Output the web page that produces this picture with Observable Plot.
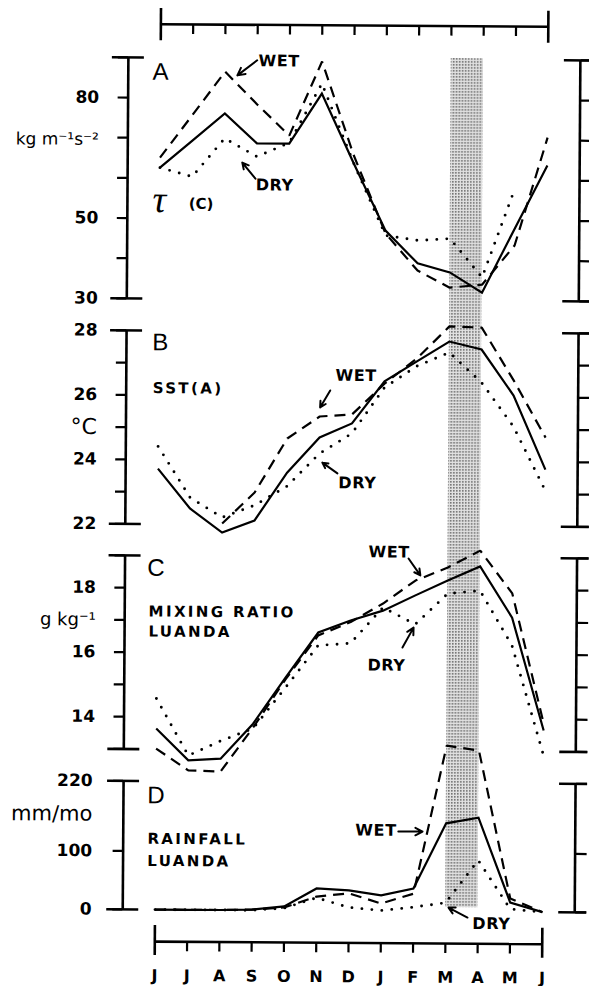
<!DOCTYPE html>
<html>
<head>
<meta charset="utf-8">
<script src="https://cdn.jsdelivr.net/npm/d3@7"></script>
<script src="https://cdn.jsdelivr.net/npm/@observablehq/plot@0.6"></script>
<style>
html, body { margin: 0; padding: 0; background: #fff; }
#fig { position: relative; width: 589px; height: 986px; overflow: hidden; background: #fff;
       transform: rotate(0.38deg); transform-origin: 294.5px 493px; }
#fig svg { position: absolute; left: 0; top: 0; background: transparent !important; overflow: visible !important; }
</style>
</head>
<body>
<div id="fig"></div>
<script>
// ---------- data ----------
const months = ["J","J","A","S","O","N","D","J","F","M","A","M","J"];

// A: wind stress tau (C), kg m-1 s-2
const tauMean = [62.6, 69.4, 76.2, 68.8, 68.8, 81.3, 64.0, 47.3, 39.2, 37.0, 32.0, 48.0, 63.8];
const tauWet  = [65.1, 75.8, 86.6, 78.5, 70.8, 89.3, 66.0, 46.6, 37.4, 33.2, 34.0, 43.8, 70.7];
const tauDry  = [62.6, 60.4, 70.0, 65.5, 69.0, 83.8, 64.0, 46.1, 44.9, 45.4, 35.8, 58.0, null];

// B: SST (A), degC
const sstMean = [23.72, 22.49, 21.75, 22.13, 23.62, 24.72, 25.16, 26.47, 27.10, 27.72, 27.48, 26.06, 23.77];
const sstWet  = [null, null, 22.03, 23.00, 24.68, 25.37, 25.44, 26.40, 27.19, 28.19, 28.16, 26.53, 24.76];
const sstDry  = [24.41, 22.83, 22.22, 22.60, 23.20, 24.22, 24.85, 26.28, 26.95, 27.38, 26.46, 25.10, 23.12];

// C: mixing ratio Luanda, g/kg
const mixMean = [13.64, 12.66, 12.72, 13.81, 15.25, 16.65, 17.03, 17.34, 17.82, 18.29, 18.73, 17.15, 13.66];
const mixWet  = [13.02, 12.35, 12.32, 13.69, 15.20, 16.56, 16.98, 17.56, 18.28, 18.69, 19.22, 17.90, 13.87];
const mixDry  = [14.57, 12.81, 13.27, 13.66, 14.94, 16.25, 16.32, 17.44, 16.92, 17.88, 17.98, 16.29, 12.89];

// D: rainfall Luanda, mm/mo
const rainMean = [0, 0, 0, 1, 7, 38, 35, 27, 39, 151, 161, 16, 0];
const rainWet  = [0, 0, 0, 1, 5, 24, 30, 13, 30, 284, 276, 23, 0];
const rainDry  = [0, 0, 0, 0, 4, 22, 6, 1, 7, 15, 88, 5, 0];

// axis ticks and labels
const ticksA = [30, 40, 50, 60, 70, 80, 90], labelsA = [30, 50, 80];
const ticksB = [22, 23, 24, 25, 26, 27, 28], labelsB = [22, 24, 26, 28];
const ticksC = [13, 14, 15, 16, 17, 18, 19], labelsC = [14, 16, 18];
const ticksD = [0, 100, 220], labelsD = [0, 100, 220];
const unitA = {v: 69.5, t: "kg m\u207B\u00B9s\u207B\u00B2"};
const unitB = {v: 25, t: "\u00B0C"};
const unitC = {v: 17, t: "g kg\u207B\u00B9"};
const unitD = {v: 163, t: "mm/mo"};

// shaded season (M..A)
const season = [{from: 9, to: 10}];

// annotations (text, positioned in data units)
const lettersA = [{x: -0.25, y: 86.4, t: "A"}];
const notesA = [{x: 3.03, y: 89.3, t: "WET"}, {x: 2.97, y: 58.4, t: "DRY"}];
const arrowsA = [{x1: 2.99, y1: 89.5, x2: 2.38, y2: 85.7}, {x1: 2.96, y1: 60.0, x2: 2.55, y2: 64.0}];
const tauSym = [{x: -0.22, y: 54.6, t: "\u03C4"}];
const tauTag = [{x: 0.9, y: 53.6, t: "(C)"}];

const lettersB = [{x: -0.2, y: 27.63, t: "B"}];
const capsB = [{x: -0.18, y: 26.21, t: "SST(A)"}];
const notesB = [{x: 5.48, y: 26.64, t: "WET"}, {x: 5.59, y: 23.31, t: "DRY"}];
const arrowsB = [{x1: 5.32, y1: 26.18, x2: 5.01, y2: 25.65}, {x1: 5.56, y1: 23.61, x2: 5.09, y2: 23.94}];

const lettersC = [{x: -0.31, y: 18.61, t: "C"}];
const capsC = [{x: -0.26, y: 17.26, t: "MIXING RATIO"}, {x: -0.26, y: 16.64, t: "LUANDA"}];
const notesC = [{x: 6.54, y: 19.15, t: "WET"}, {x: 6.53, y: 15.64, t: "DRY"}];
const arrowsC = [{x1: 7.78, y1: 18.96, x2: 8.15, y2: 18.44}, {x1: 7.61, y1: 16.2, x2: 7.95, y2: 16.82}];

const lettersD = [{x: -0.26, y: 195, t: "D"}];
const capsD = [{x: -0.25, y: 120.7, t: "RAINFALL"}, {x: -0.25, y: 82.9, t: "LUANDA"}];
const notesD = [{x: 6.19, y: 137.7, t: "WET"}, {x: 9.83, y: -20.9, t: "DRY"}];
const arrowsD = [{x1: 7.52, y1: 136.5, x2: 8.27, y2: 136.6}, {x1: 9.68, y1: -10.1, x2: 9.09, y2: 6.8}];

// ---------- drawing ----------
const W = 589, H = 986, ML = 125, MR = 12;
const fig = document.getElementById("fig");
const rows = arr => arr.map((v, i) => ({i, v}));
const SANS = "DejaVu Sans";

function seriesMarks(mean, wet, dry) {
  return [
    Plot.line(rows(mean), {x: "i", y: "v", stroke: "#000", strokeWidth: 2.2, strokeLinecap: "butt", strokeLinejoin: "miter", strokeMiterlimit: 6}),
    Plot.line(rows(wet), {x: "i", y: "v", stroke: "#000", strokeWidth: 2.2, strokeDasharray: "11,7", strokeLinecap: "butt", strokeLinejoin: "miter"}),
    Plot.line(rows(dry), {x: "i", y: "v", stroke: "#000", strokeWidth: 2.9, strokeDasharray: "0,10", strokeLinecap: "round"})
  ];
}

function spaceText(svg, strings, spacing) {
  svg.querySelectorAll("text").forEach(t => {
    if (strings.includes(t.textContent)) t.setAttribute("letter-spacing", spacing);
  });
}

function panel(o) {
  const [d0, d1] = o.domain;
  const marks = [
    Plot.ruleX([-1, 13], {stroke: "#000", strokeWidth: 2.6}),
    Plot.ruleY([d0, d1], {x1: -1, x2: -1, insetLeft: -16, insetRight: -16, stroke: "#000", strokeWidth: 2.6}),
    Plot.ruleY([d0, d1], {x1: 13, x2: 13, insetLeft: -16, insetRight: -16, stroke: "#000", strokeWidth: 2.6}),
    Plot.axisY({anchor: "left", ticks: o.ticks, tickSize: 10, tickFormat: () => "", strokeWidth: 2.2}),
    Plot.axisY({anchor: "right", ticks: o.ticks, tickSize: 13, tickFormat: () => "", strokeWidth: 2.2}),
    Plot.axisY({anchor: "left", ticks: o.labels, tickSize: 0, tickPadding: o.pad, tickFormat: d => String(d),
                fontFamily: SANS, fontWeight: "bold", fontSize: 17, fill: "#000"}),
    Plot.text([o.unit], {x: -1, y: "v", text: "t", dx: -o.pad, textAnchor: "end", fontFamily: SANS, fontSize: o.unitSize, fill: "#000"}),
    ...seriesMarks(...o.series),
    Plot.text(o.letters, {x: "x", y: "y", text: "t", textAnchor: "start", fontFamily: "Liberation Sans", fontSize: 24, fill: "#000"}),
    Plot.text(o.notes, {x: "x", y: "y", text: "t", textAnchor: "start", fontFamily: SANS, fontWeight: "bold", fontSize: 16, fill: "#000"}),
    Plot.arrow(o.arrows, {x1: "x1", y1: "y1", x2: "x2", y2: "y2", stroke: "#000", strokeWidth: 2, headLength: 7, headAngle: 55})
  ];
  if (o.caps) marks.push(Plot.text(o.caps, {x: "x", y: "y", text: "t", textAnchor: "start", fontFamily: SANS, fontWeight: "bold", fontSize: 15, fill: "#000"}));
  if (o.extra) marks.push(...o.extra);
  const svg = Plot.plot({
    width: W, height: H, marginLeft: ML, marginRight: MR, marginTop: o.top, marginBottom: H - o.bottom,
    x: {domain: [-1, 13], axis: null}, y: {domain: o.domain},
    marks
  });
  if (o.caps) spaceText(svg, o.caps.map(d => d.t), "2.4");
  spaceText(svg, o.notes.map(d => d.t), "0.6");
  return svg;
}

// shaded band
const band = Plot.plot({
  width: W, height: H, marginLeft: ML, marginRight: MR, marginTop: 57, marginBottom: H - 906,
  x: {domain: [-1, 13], axis: null},
  marks: [Plot.rect(season, {x1: "from", x2: "to", fill: "url(#stipple)"})]
});
{
  const NS = "http://www.w3.org/2000/svg";
  const defs = document.createElementNS(NS, "defs");
  const pat = document.createElementNS(NS, "pattern");
  pat.setAttribute("id", "stipple"); pat.setAttribute("width", "3"); pat.setAttribute("height", "3");
  pat.setAttribute("patternUnits", "userSpaceOnUse");
  const bg = document.createElementNS(NS, "rect");
  bg.setAttribute("width", "3"); bg.setAttribute("height", "3"); bg.setAttribute("fill", "#e2e2e2");
  const dot = document.createElementNS(NS, "rect");
  dot.setAttribute("width", "1.6"); dot.setAttribute("height", "1.6"); dot.setAttribute("fill", "#6e6e6e");
  pat.appendChild(bg); pat.appendChild(dot); defs.appendChild(pat);
  band.insertBefore(defs, band.firstChild);
}
fig.appendChild(band);

// top axis
fig.appendChild(Plot.plot({
  width: W, height: H, marginLeft: ML, marginRight: MR, marginTop: 9, marginBottom: H - 24.6,
  x: {domain: [-1, 13], axis: null}, y: {domain: [0, 1], axis: null},
  marks: [
    Plot.ruleY([0], {x1: 0, x2: months.length - 1, stroke: "#000", strokeWidth: 2.6}),
    Plot.ruleX([0, months.length - 1], {insetBottom: -16.5, stroke: "#000", strokeWidth: 2.6}),
    Plot.axisX({anchor: "bottom", ticks: d3.range(1, months.length - 1), tickSize: 10, tickFormat: () => "", strokeWidth: 2.2})
  ]
}));

fig.appendChild(panel({top: 58, bottom: 299, domain: [30, 90], ticks: ticksA, labels: labelsA, pad: 29,
  unit: unitA, unitSize: 17, series: [tauMean, tauWet, tauDry], letters: lettersA, notes: notesA, arrows: arrowsA,
  extra: [
    Plot.text(tauSym, {x: "x", y: "y", text: "t", textAnchor: "start", fontFamily: "Liberation Serif", fontStyle: "italic", fontSize: 38, fill: "#000"}),
    Plot.text(tauTag, {x: "x", y: "y", text: "t", textAnchor: "start", fontFamily: SANS, fontWeight: "bold", fontSize: 15, fill: "#000"})
  ]}));

fig.appendChild(panel({top: 331, bottom: 524.5, domain: [22, 28], ticks: ticksB, labels: labelsB, pad: 29,
  unit: unitB, unitSize: 22, series: [sstMean, sstWet, sstDry], letters: lettersB, notes: notesB, arrows: arrowsB, caps: capsB}));

fig.appendChild(panel({top: 556, bottom: 749.6, domain: [13, 19], ticks: ticksC, labels: labelsC, pad: 29,
  unit: unitC, unitSize: 18, series: [mixMean, mixWet, mixDry], letters: lettersC, notes: notesC, arrows: arrowsC, caps: capsC}));

fig.appendChild(panel({top: 781.5, bottom: 910, domain: [0, 220], ticks: ticksD, labels: labelsD, pad: 31,
  unit: unitD, unitSize: 21, series: [rainMean, rainWet, rainDry], letters: lettersD, notes: notesD, arrows: arrowsD, caps: capsD}));

// bottom axis with month labels
fig.appendChild(Plot.plot({
  width: W, height: H, marginLeft: ML, marginRight: MR, marginTop: 926, marginBottom: H - 942,
  x: {domain: [-1, 13], axis: null}, y: {domain: [0, 1], axis: null},
  marks: [
    Plot.ruleY([0], {x1: 0, x2: months.length - 1, stroke: "#000", strokeWidth: 2.6}),
    Plot.ruleX([0, months.length - 1], {insetBottom: -14, stroke: "#000", strokeWidth: 2.6}),
    Plot.axisX({anchor: "bottom", ticks: d3.range(1, months.length - 1), tickSize: 10, tickFormat: () => "", strokeWidth: 2.2}),
    Plot.axisX({anchor: "bottom", ticks: d3.range(months.length), tickSize: 0, tickPadding: 28, tickFormat: i => months[i],
                fontFamily: SANS, fontWeight: "bold", fontSize: 16, fill: "#000"})
  ]
}));
</script>
</body>
</html>
